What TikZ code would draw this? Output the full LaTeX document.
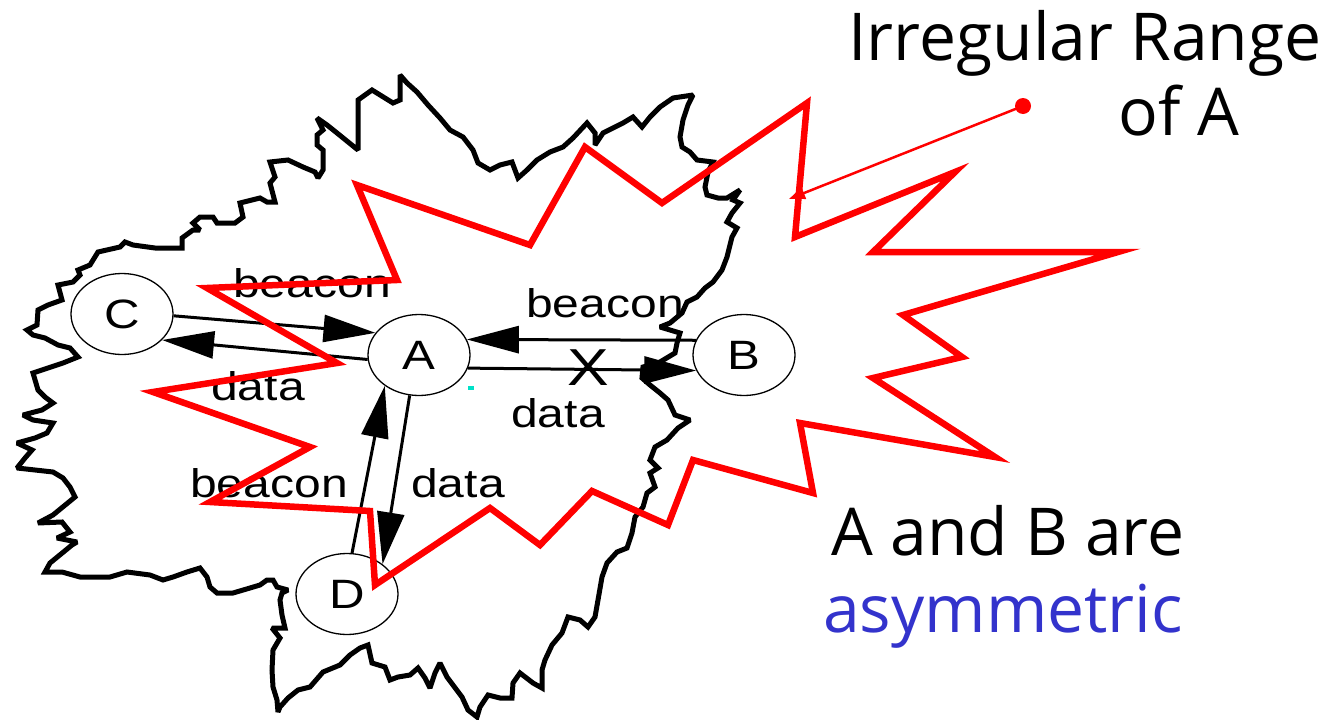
\documentclass[tikz,border=0pt]{standalone}
\usepackage{fontspec}
\usetikzlibrary{shapes.geometric,arrows.meta}
\newfontfamily\arialx[FakeStretch=1.2]{Liberation Sans}
\newfontfamily\comic{Open Sans}
\definecolor{myred}{RGB}{255,0,0}
\definecolor{myblue}{RGB}{51,51,204}
\definecolor{mycyan}{RGB}{0,225,200}
\begin{document}
\begin{tikzpicture}[x=1pt,y=-1pt,
  station/.style={ellipse, draw, line width=1.3pt, minimum width=102pt, minimum height=81pt, inner sep=0pt, font=\arialx\fontsize{41}{48}\selectfont},
  link/.style={line width=3pt, -{Triangle[length=52pt,width=27pt]}},
  lbl/.style={anchor=base, inner sep=0pt, font=\arialx\fontsize{40}{48}\selectfont},
  bigx/.style={anchor=base, inner sep=0pt, font=\arialx\fontsize{52}{60}\selectfont},
  note/.style={anchor=base, inner sep=0pt, font=\comic\fontsize{66}{78}\selectfont},
  outline/.style={line width=5pt, line join=miter, miter limit=2},
  redrange/.style={draw=myred, line width=6.5pt, line join=miter, miter limit=8},
  pointer/.style={draw=myred, line width=2.5pt, -{Triangle[length=16pt,width=12pt]}}
]
\useasboundingbox (0,0) rectangle (1341,720);

% irregular (black) range
\draw[outline] (45,572) -- (50,563) -- (72,545) -- (77,542) -- (57,538) -- (70,532) -- (62,522) -- (38,523) -- (53,515) -- (75,497) -- (70,487) -- (63,478) -- (53,472) -- (17,468) -- (25,458) -- (32,450) -- (17,443) -- (35,438) -- (47,433) -- (53,423) -- (33,420) -- (23,415) -- (42,410) -- (53,403) -- (45,397) -- (38,390) -- (33,373) -- (48,368) -- (63,363) -- (78,357) -- (70,348) -- (58,345) -- (45,338) -- (33,335) -- (27,330) -- (37,325) -- (38,310) -- (48,305) -- (62,300) -- (58,285) -- (73,282) -- (80,275) -- (78,270) -- (90,265) -- (98,252) -- (120,247) -- (125,242) -- (133,245) -- (155,248) -- (182,248) -- (182,238) -- (193,230) -- (200,230) -- (193,223) -- (200,217) -- (213,217) -- (217,223) -- (235,223) -- (243,217) -- (240,203) -- (260,198) -- (267,202) -- (275,202) -- (270,183) -- (275,177) -- (270,162) -- (288,160) -- (303,167) -- (315,172) -- (318,178) -- (323,170) -- (323,150) -- (317,145) -- (317,135) -- (323,130) -- (317,118) -- (327,125) -- (337,133) -- (358,150) -- (358,100) -- (372,90) -- (393,103) -- (400,100) -- (400,75) -- (407,83) -- (417,92) -- (428,105) -- (440,118) -- (450,130) -- (463,137) -- (473,150) -- (478,163) -- (490,170) -- (500,165) -- (512,162) -- (518,178) -- (527,170) -- (537,160) -- (550,152) -- (563,147) -- (573,138) -- (587,123) -- (595,133) -- (595,145) -- (603,133) -- (623,123) -- (633,117) -- (642,127) -- (650,117) -- (660,107) -- (673,98) -- (693,95) -- (688,105) -- (683,120) -- (680,137) -- (682,147) -- (690,152) -- (697,160) -- (713,162) -- (708,172) -- (705,187) -- (707,195) -- (718,198) -- (727,198) -- (740,190) -- (733,200) -- (740,203) -- (732,213) -- (727,222) -- (737,228) -- (732,237) -- (727,257) -- (722,270) -- (713,282) -- (705,288) -- (697,297) -- (687,302) -- (682,313) -- (670,323) -- (660,327) -- (680,333) -- (677,343) -- (675,353) -- (660,362) -- (643,367) -- (642,378) -- (650,385) -- (660,393) -- (668,400) -- (675,415) -- (690,420) -- (678,428) -- (667,440) -- (655,447) -- (650,460) -- (658,468) -- (650,473) -- (655,487) -- (647,493) -- (643,507) -- (635,517) -- (632,533) -- (627,548) -- (617,552) -- (607,563) -- (602,577) -- (598,600) -- (595,617) -- (588,627) -- (580,620) -- (568,617) -- (562,633) -- (552,645) -- (545,660) -- (542,670) -- (542,688) -- (533,683) -- (520,673) -- (513,683) -- (512,698) -- (500,698) -- (488,695) -- (480,707) -- (477,717) -- (468,710) -- (462,697) -- (453,685) -- (447,677) -- (440,663) -- (435,673) -- (430,688) -- (425,678) -- (418,668) -- (410,675) -- (398,677) -- (390,680) -- (385,667) -- (372,663) -- (368,645) -- (360,648) -- (350,655) -- (340,665) -- (323,672) -- (310,687) -- (298,690) -- (288,698) -- (280,707) -- (278,712) -- (277,700) -- (273,687) -- (272,670) -- (273,650) -- (280,638) -- (272,628) -- (285,628) -- (282,615) -- (280,600) -- (282,593) -- (288,590) -- (277,587) -- (273,580) -- (267,580) -- (260,585) -- (250,588) -- (233,593) -- (217,593) -- (210,587) -- (207,577) -- (200,568) -- (187,572) -- (173,577) -- (163,580) -- (150,575) -- (127,572) -- (110,577) -- (80,577) -- (62,572) -- cycle;

% stations
\node[station] (C) at (122,314) {C};
\node[station] (A) at (419,355) {A};
\node[station] (B) at (744,355) {B};
\node[station] (D) at (347,594) {D};

% links
\draw[link] (C.-2) -- (A.153);
\draw[link] (A.185) -- (C.-33);
\draw[link] (B.163) -- (A.18);
\draw[link] (A.-15) -- (B.-162);
\draw[link] (D.83) -- (A.222);
\draw[link] (A.257) -- (D.40);

% link labels
\node[lbl] (l1) at (312,297) {beacon};
\node[lbl] (l2) at (258,400) {data};
\node[lbl] (l3) at (605,317) {beacon};
\node[bigx] (lx) at (588,385) {X};
\node[lbl] (l4) at (558,427) {data};
\node[lbl] (l5) at (269,497) {beacon};
\node[lbl] (l6) at (458,497) {data};

% stray speck
\fill[mycyan] (468,386) rectangle (474,390);

% irregular (red) range of A
\draw[redrange] (357,185) -- (530,245) -- (585,147) -- (662,203) -- (807,103) -- (795,237) -- (955,172) -- (873,252) -- (1118,252) -- (903,315) -- (962,357) -- (873,378) -- (995,457) -- (800,423) -- (813,493) -- (693,460) -- (668,525) -- (592,491) -- (540,545) -- (490,508) -- (375,585) -- (370,511) -- (210,502) -- (310,447) -- (153,392) -- (337,363) -- (207,288) -- (397,280) -- cycle;

% annotation
\coordinate (dot) at (1023,106);
\coordinate (tip) at (789,199);
\fill[myred] (dot) circle[radius=8pt];
\draw[pointer] (dot) -- (tip);

\node[note] (t1) at (1085,60) {Irregular Range};
\node[note] (t2) at (1179,135) {of A};
\node[note] (t3) at (1008,555) {A and B are};
\node[note, text=myblue] (t4) at (1003,632) {asymmetric};
\end{tikzpicture}
\end{document}
